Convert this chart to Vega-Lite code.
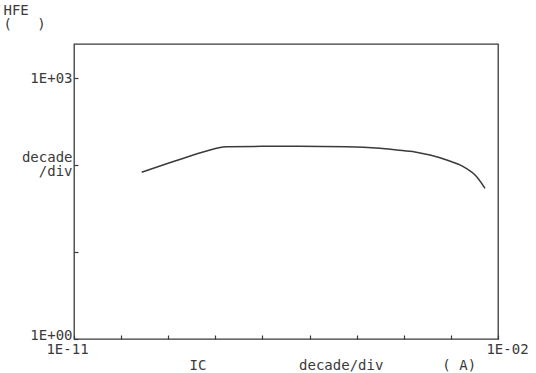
{
  "$schema": "https://vega.github.io/schema/vega-lite/v6.json",
  "width": 424,
  "height": 295,
  "autosize": {"type": "none"},
  "padding": {"left": 74, "top": 44, "right": 38, "bottom": 34},
  "background": "white",
  "config": {
    "view": {"stroke": "#3a3a3a", "strokeWidth": 1.3},
    "font": "DejaVu Sans Mono"
  },
  "data": {
    "values": [
      {"ic": 2.74e-10, "hfe": 82.4},
      {"ic": 1.39e-9, "hfe": 111},
      {"ic": 7.7e-9, "hfe": 148.7},
      {"ic": 1.14e-8, "hfe": 157},
      {"ic": 1.74e-8, "hfe": 162.3},
      {"ic": 2.36e-7, "hfe": 164},
      {"ic": 6.15e-6, "hfe": 162.3},
      {"ic": 3.13e-5, "hfe": 155.6},
      {"ic": 7.08e-5, "hfe": 148.7},
      {"ic": 1.73e-4, "hfe": 141},
      {"ic": 3.6e-4, "hfe": 130},
      {"ic": 8.15e-4, "hfe": 114},
      {"ic": 1.84e-3, "hfe": 95.6},
      {"ic": 3.53e-3, "hfe": 73.4},
      {"ic": 5.3e-3, "hfe": 54}
    ]
  },
  "mark": {"type": "line", "color": "#3a3a3a", "strokeWidth": 1.5, "interpolate": "monotone"},
  "encoding": {
    "x": {
      "field": "ic",
      "type": "quantitative",
      "scale": {"type": "log", "domain": [1e-11, 1e-2], "nice": false},
      "axis": {
        "values": [1e-11, 1e-10, 1e-9, 1e-8, 1e-7, 1e-6, 1e-5, 1e-4, 1e-3, 1e-2],
        "labelExpr": "datum.value < 2e-11 ? '1E-11' : (datum.value > 5e-3 ? '1E-02' : '')",
        "domain": false,
        "grid": false,
        "tickSize": -4,
        "tickColor": "#3a3a3a",
        "tickWidth": 1.2,
        "labelFont": "DejaVu Sans Mono",
        "labelFontSize": 14,
        "labelColor": "#3a3a3a",
        "labelAlign": "center",
        "labelBaseline": "top",
        "labelPadding": 7,
        "labelOffset": {"condition": {"test": "datum.value < 2e-11", "value": -7}, "value": 9},
        "labelOverlap": false,
        "labelFlush": false,
        "title": "IC\u00a0\u00a0\u00a0\u00a0\u00a0\u00a0\u00a0\u00a0\u00a0\u00a0\u00a0decade/div\u00a0\u00a0\u00a0\u00a0\u00a0\u00a0\u00a0(\u00a0A)",
        "titleFont": "DejaVu Sans Mono",
        "titleFontSize": 14,
        "titleFontWeight": "normal",
        "titleColor": "#3a3a3a",
        "titleAnchor": "start",
        "titleAlign": "left",
        "titleBaseline": "alphabetic",
        "titleX": 115,
        "titleY": 30
      }
    },
    "y": {
      "field": "hfe",
      "type": "quantitative",
      "scale": {"type": "log", "domain": [1, 2460], "nice": false},
      "axis": {
        "values": [1, 10, 100, 1000],
        "labelExpr": "datum.value == 1 ? '1E+00' : (datum.value == 100 ? ['decade', '/div'] : (datum.value == 1000 ? '1E+03' : ''))",
        "domain": false,
        "grid": false,
        "tickSize": -4,
        "tickColor": "#3a3a3a",
        "tickWidth": 1.2,
        "labelFont": "DejaVu Sans Mono",
        "labelFontSize": 14,
        "labelColor": "#3a3a3a",
        "labelAlign": "right",
        "labelBaseline": "middle",
        "labelPadding": 6,
        "labelLineHeight": 14,
        "labelOffset": {"condition": [{"test": "datum.value == 1", "value": -4}, {"test": "datum.value == 100", "value": -8}], "value": 0},
        "labelOverlap": false,
        "labelFlush": false,
        "title": ["HFE", "\u00a0\u00a0\u00a0(\u00a0\u00a0\u00a0)"],
        "titleFont": "DejaVu Sans Mono",
        "titleFontSize": 14,
        "titleFontWeight": "normal",
        "titleColor": "#3a3a3a",
        "titleAngle": 0,
        "titleAlign": "left",
        "titleBaseline": "top",
        "titleLineHeight": 14,
        "titleX": -71,
        "titleY": -41
      }
    }
  }
}
